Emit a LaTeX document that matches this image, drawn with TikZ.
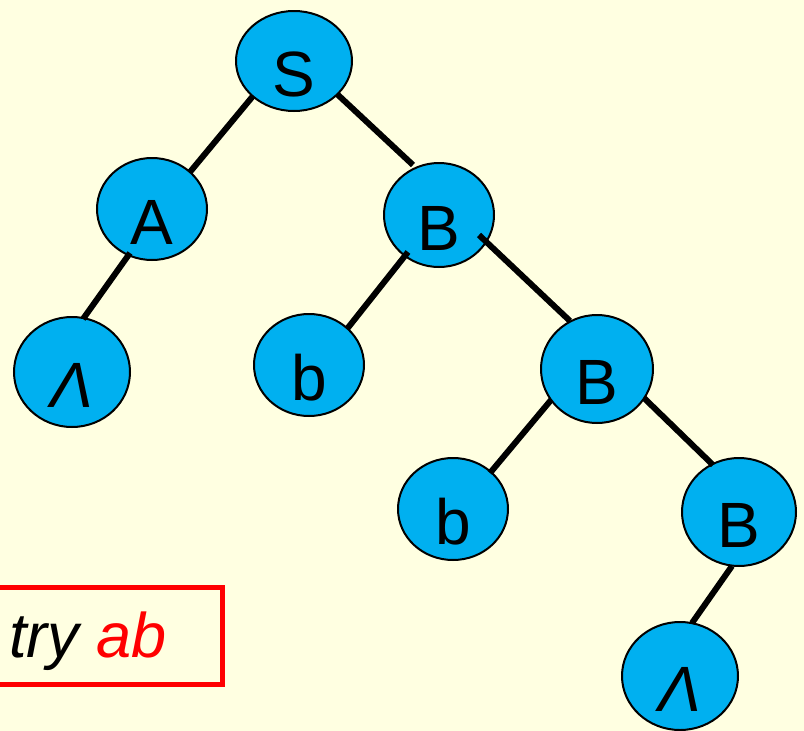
\documentclass[tikz,border=0pt]{standalone}
\usepackage{fontspec}
\setmainfont{Liberation Sans}
\usetikzlibrary{shapes.geometric}
\definecolor{paper}{RGB}{255,255,225}
\definecolor{nodeblue}{RGB}{0,176,240}
\tikzset{
  vnode/.style={ellipse, draw=black, line width=2pt, fill=nodeblue, inner sep=0pt},
  vtext/.style={anchor=base, inner sep=0pt, font=\fontsize{64}{70}\selectfont},
  edge/.style={line width=6pt, black},
}
% tree vertex: name, x, y, half width, half height, symbol
\newcommand{\vertex}[6]{%
  \node[vnode, minimum width=#4*2pt, minimum height=#5*2pt] (#1) at (#2,#3) {};
  \node[vtext] (#1-t) at ([yshift=-35pt]#1.center) {#6};
}
\begin{document}
\begin{tikzpicture}[x=1pt, y=-1pt]
  \fill[paper] (0,0) rectangle (804,731);
  \useasboundingbox (0,0) rectangle (804,731);

  \vertex{S}{294}{61}{58}{50}{S}
  \vertex{A}{152}{209}{55}{51}{A}
  \vertex{B1}{439}{215}{55}{52}{B}
  \vertex{L1}{72}{372}{58}{55}{\itshape Λ}
  \vertex{b1}{309}{365}{55}{51}{b}
  \vertex{B2}{597}{369}{56}{54}{B}
  \vertex{b2}{453}{509}{55}{51}{b}
  \vertex{B3}{739}{512}{57}{54}{B}
  \vertex{L2}{680}{676}{58}{54}{\itshape Λ}

  % parent-child connectors
  \draw[edge] ([shift={(-41pt,-35pt)}]S.center) -- ([shift={(38pt,37pt)}]A.center);
  \draw[edge] ([shift={(43pt,-33pt)}]S.center) -- ([shift={(-26pt,50pt)}]B1.center);
  \draw[edge] ([shift={(-22pt,-44pt)}]A.center) -- ([shift={(11pt,53pt)}]L1.center);
  \draw[edge] ([shift={(-31pt,-37pt)}]B1.center) -- ([shift={(38pt,36pt)}]b1.center);
  \draw[edge] ([shift={(40pt,-20pt)}]B1.center) -- ([shift={(-27pt,48pt)}]B2.center);
  \draw[edge] ([shift={(-46pt,-31pt)}]B2.center) -- ([shift={(37pt,36pt)}]b2.center);
  \draw[edge] ([shift={(47pt,-29pt)}]B2.center) -- ([shift={(-26pt,47pt)}]B3.center);
  \draw[edge] ([shift={(-7pt,-54pt)}]B3.center) -- ([shift={(12pt,53pt)}]L2.center);

  % string being tried
  \draw[red, line width=5pt] (-20,587) rectangle (222,684);
  \node[anchor=base west, inner sep=0pt, font=\fontsize{63}{68}\selectfont\itshape] (try) at (9,657)
    {try \textcolor{red}{ab}};
\end{tikzpicture}
\end{document}
